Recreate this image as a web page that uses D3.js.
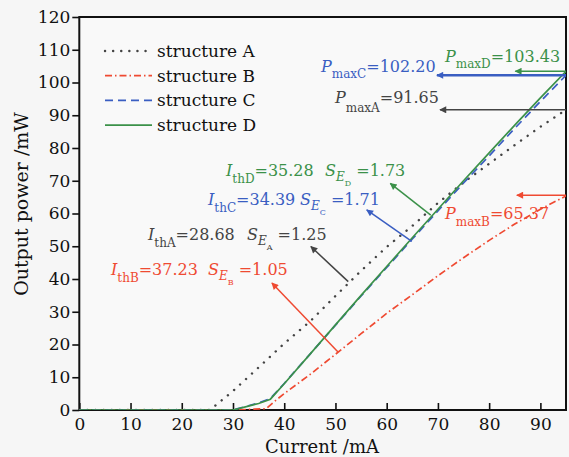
<!DOCTYPE html>
<html lang="en">
<head>
<meta charset="UTF-8">
<title>Output power vs current</title>
<script src="https://d3js.org/d3.v7.min.js"></script>
<style>
  body { margin: 0; background: #f6f6f6; }
  svg { display: block; font-family: "DejaVu Serif", serif; }
</style>
</head>
<body>
<svg id="chart" width="569" height="457"></svg>
<script>
// data
const currentA = [0, 25.5, 30, 35, 40, 45, 50, 55, 60, 65, 70, 75, 80, 85, 90, 95];
const powerA   = [0, 0, 5.8, 13, 20.3, 27, 34.8, 42.5, 49.8, 56.2, 63.2, 69.5, 75.2, 80.9, 86.5, 91.65];

const currentB = [0, 30, 36.5, 38, 40, 45, 50, 55, 60, 65, 70, 75, 80, 85, 90, 95];
const powerB   = [0, 0, 0.4, 2.5, 5, 10.8, 17, 23.3, 29.5, 35.2, 41, 46.5, 51.8, 56.8, 61.3, 65.37];

const currentC = [0, 30, 33, 35, 37.3, 40, 45, 50, 55, 60, 65, 70, 75, 80, 85, 90, 95];
const powerC   = [0, 0, 1.3, 2.2, 3.5, 8.1, 17, 25.9, 34.8, 43.5, 52.2, 60.8, 69.3, 77.6, 86, 94.2, 102.2];

const currentD = [0, 30, 33, 35, 37.3, 40, 45, 50, 55, 60, 65, 70, 75, 80, 85, 90, 95];
const powerD   = [0, 0, 1.2, 2, 3.3, 8, 17, 26, 35, 43.8, 52.6, 61.3, 70, 78.5, 87, 95.3, 103.43];

const seriesNames = ["structure A", "structure B", "structure C", "structure D"];
const xTicks = [0, 10, 20, 30, 40, 50, 60, 70, 80, 90];
const yTicks = [0, 10, 20, 30, 40, 50, 60, 70, 80, 90, 100, 110, 120];

// arrows: tail on curve -> head (data coords)
const arrowsFrom = [[68.6, 59.5], [64.9, 51.5], [52.5, 39.2], [50.5, 17.7], [95, 103.43], [95, 102.2], [95, 91.65], [95, 65.6]];
const arrowsTo   = [[60.7, 69.2], [56.1, 61.1], [45.2, 49.9], [37.6, 38.8], [85.1, 103.43], [69.8, 102.2], [70.4, 91.65], [85.4, 65.6]];
const arrowColor = ["D", "C", "A", "B", "D", "C", "A", "B"];

const color = {A: "#444", B: "#ef4a32", C: "#3a5ec2", D: "#3b9149"};
const dash = {A: "0.1,8", B: "7,3,1.5,3", C: "8,5", D: null};

const svg = d3.select("#chart");
const x = d3.scaleLinear().domain([0, 95]).range([79.3, 566]);
const y = d3.scaleLinear().domain([0, 120]).range([410, 17]);

// plot background
svg.append("rect").attr("x", 79).attr("y", 17).attr("width", 487).attr("height", 393)
  .attr("fill", "#f9f9f9");

// axes
const xAxis = svg.append("g").attr("transform", "translate(0,410)")
  .call(d3.axisBottom(x).tickValues(xTicks).tickSizeInner(-7).tickSizeOuter(0).tickPadding(8));
const yAxis = svg.append("g").attr("transform", "translate(79.3,0)")
  .call(d3.axisLeft(y).tickValues(yTicks).tickSizeInner(7).tickSizeOuter(0).tickPadding(2));
[xAxis, yAxis].forEach(g => {
  g.selectAll("text").style("font-family", "DejaVu Serif").style("font-size", "17px").attr("fill", "#111");
  g.selectAll("line").attr("stroke", "#111").attr("stroke-width", 1.6);
  g.select(".domain").remove();
});

svg.append("rect").attr("x", 79.3).attr("y", 17).attr("width", 486.7).attr("height", 393)
  .attr("fill", "none").attr("stroke", "#111").attr("stroke-width", 2);

// axis titles
svg.append("text").attr("x", 322).attr("y", 453).attr("text-anchor", "middle")
  .style("font-size", "18px").attr("fill", "#111").text("Current /mA");
svg.append("text").attr("transform", "translate(28,204) rotate(-90)").attr("text-anchor", "middle")
  .style("font-size", "19px").attr("fill", "#111").text("Output power /mW");

// curves
const series = [
  {k: "A", xs: currentA, ys: powerA},
  {k: "B", xs: currentB, ys: powerB},
  {k: "C", xs: currentC, ys: powerC},
  {k: "D", xs: currentD, ys: powerD}
];
const line = d3.line().x(d => x(d[0])).y(d => y(d[1]));
svg.append("clipPath").attr("id", "clip")
  .append("rect").attr("x", 79).attr("y", 17).attr("width", 487).attr("height", 393);
svg.append("g").attr("clip-path", "url(#clip)")
  .selectAll("path").data(series).join("path")
  .attr("d", s => line(d3.zip(s.xs, s.ys)))
  .attr("fill", "none")
  .attr("stroke", s => color[s.k])
  .attr("stroke-width", s => s.k === "A" ? 2.4 : 1.7)
  .attr("stroke-linecap", s => s.k === "A" ? "round" : "butt")
  .attr("stroke-dasharray", s => dash[s.k]);

// legend
const legend = svg.append("g");
series.forEach((s, i) => {
  const ly = 51 + i * 24.7;
  legend.append("line").attr("x1", 105).attr("x2", 152).attr("y1", ly).attr("y2", ly)
    .attr("stroke", color[s.k]).attr("stroke-width", s.k === "A" ? 2.4 : 1.7)
    .attr("stroke-linecap", s.k === "A" ? "round" : "butt")
    .attr("stroke-dasharray", dash[s.k]);
  legend.append("text").attr("x", 157).attr("y", ly + 6).style("font-size", "17px")
    .attr("fill", "#111").text(seriesNames[i]);
});

// arrows
const defs = svg.append("defs");
Object.keys(color).forEach(k => {
  defs.append("marker").attr("id", "arr" + k).attr("viewBox", "0 0 10 10")
    .attr("refX", 9).attr("refY", 5).attr("markerWidth", 9).attr("markerHeight", 7)
    .attr("markerUnits", "userSpaceOnUse").attr("orient", "auto")
    .append("path").attr("d", "M0,0L10,5L0,10Z").attr("fill", color[k]);
});
svg.append("g").selectAll("line").data(arrowsFrom).join("line")
  .attr("x1", d => x(d[0])).attr("y1", d => y(d[1]))
  .attr("x2", (d, i) => x(arrowsTo[i][0])).attr("y2", (d, i) => y(arrowsTo[i][1]))
  .attr("stroke", (d, i) => color[arrowColor[i]])
  .attr("stroke-width", (d, i) => arrowColor[i] === "C" && i > 3 ? 2.4 : 1.5)
  .attr("marker-end", (d, i) => `url(#arr${arrowColor[i]})`);

// annotation text
function pmax(px, py, k, sub, val, subDy) {
  const t = svg.append("text").attr("x", px).attr("y", py).attr("fill", color[k]).style("font-size", "16px");
  t.append("tspan").style("font-style", "italic").text("P");
  t.append("tspan").style("font-size", "12px").attr("dy", subDy).text(sub);
  t.append("tspan").attr("dy", -subDy).text("=" + val);
}
function ith(px, py, k, sx, ithVal, seVal) {
  const t = svg.append("text").attr("x", px).attr("y", py).attr("fill", color[k]).style("font-size", "16px");
  t.append("tspan").style("font-style", "italic").text("I");
  t.append("tspan").style("font-size", "12px").attr("dy", 7).text("th" + k);
  t.append("tspan").attr("dy", -7).text("=" + ithVal);
  t.append("tspan").attr("x", sx).style("font-style", "italic").text("S");
  t.append("tspan").style("font-size", "12px").style("font-style", "italic").attr("dy", 5).text("E");
  t.append("tspan").style("font-size", "8px").attr("dy", 5).text(k);
  t.append("tspan").attr("dy", -10).text(" =" + seVal);
}
pmax(445, 62, "D", "maxD", "103.43", 6);
pmax(321, 72, "C", "maxC", "102.20", 6);
pmax(335, 103, "A", "maxA", "91.65", 9);
pmax(445, 219, "B", "maxB", "65.37", 7);
ith(226, 176, "D", 325, "35.28", "1.73");
ith(208, 205, "C", 300, "34.39", "1.71");
ith(148, 240, "A", 247, "28.68", "1.25");
ith(111, 275, "B", 208, "37.23", "1.05");
</script>
</body>
</html>
